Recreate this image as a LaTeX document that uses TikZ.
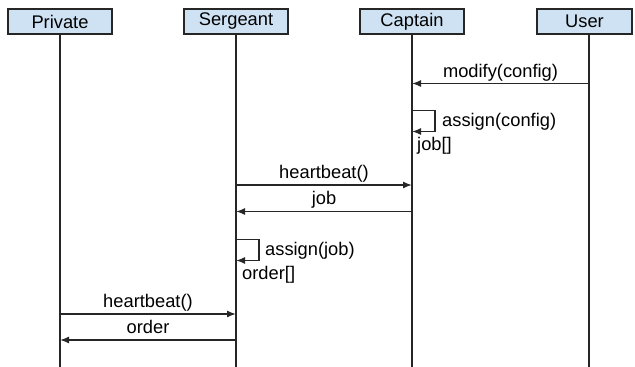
\documentclass[tikz,border=0pt]{standalone}
\usepackage{fontspec}
\setmainfont{Liberation Sans}
\usetikzlibrary{arrows.meta}
\definecolor{boxblue}{RGB}{207,226,243}
\begin{document}
\begin{tikzpicture}[x=1pt,y=-1pt,
  font=\fontsize{18.3}{21}\selectfont,
  actor/.style={draw=black!85,fill=boxblue,line width=1.3pt,minimum width=104pt,minimum height=25pt,inner sep=0pt},
  life/.style={draw=black!85,line width=1.4pt},
  msg/.style={draw=black!85,line width=1.4pt,-{Latex[length=9pt,width=7pt]}},
  lbl/.style={anchor=base,inner sep=0pt}]
\useasboundingbox (0,0) rectangle (635,367);
\clip (0,0) rectangle (635,367);
\node[actor] (p) at (60,21.5) {Private};
\node[actor] (s) at (236,21.5) {Sergeant};
\node[actor] (c) at (412,21.5) {Captain};
\node[actor,minimum width=95pt] (u) at (584.5,21.5) {User};
\coordinate (us) at (589,34);
\coordinate (pe) at (60,367);
\coordinate (se) at (236,367);
\coordinate (ce) at (412,367);
\coordinate (ue) at (589,367);
\draw[life] (p.south) -- (pe);
\draw[life] (s.south) -- (se);
\draw[life] (c.south) -- (ce);
\draw[life] (us) -- (ue);
% modify(config)
\coordinate (m1) at (589,83.5);
\coordinate (m2) at (412,83.5);
\draw[msg] (m1) -- (m2);
\node[lbl] (lm) at (500.5,77) {modify(config)};
% captain self loop
\coordinate (cl1) at (412,110.5);
\coordinate (cl2) at (412,131.5);
\draw[msg] (cl1) -| (435,131.5) -- (cl2);
\node[lbl,anchor=base west] (la) at (442,126) {assign(config)};
\node[lbl,anchor=base west] (lj) at (417,150) {job[]};
% heartbeat sergeant -> captain
\coordinate (h1) at (236,185);
\coordinate (h2) at (412,185);
\draw[msg] (h1) -- (h2);
\node[lbl] (lh) at (324,178) {heartbeat()};
% job captain -> sergeant
\coordinate (j1) at (412,211.5);
\coordinate (j2) at (236,211.5);
\draw[msg] (j1) -- (j2);
\node[lbl] (ljb) at (324,204.5) {job};
% sergeant self loop
\coordinate (sl1) at (236,239.5);
\coordinate (sl2) at (236,260.5);
\draw[msg] (sl1) -| (259,260.5) -- (sl2);
\node[lbl,anchor=base west] (las) at (265,255) {assign(job)};
\node[lbl,anchor=base west] (lo) at (242,279) {order[]};
% heartbeat private -> sergeant
\coordinate (hp1) at (60,314);
\coordinate (hp2) at (236,314);
\draw[msg] (hp1) -- (hp2);
\node[lbl] (lhp) at (148,307) {heartbeat()};
% order sergeant -> private
\coordinate (o1) at (236,340);
\coordinate (o2) at (60,340);
\draw[msg] (o1) -- (o2);
\node[lbl] (lor) at (148,333) {order};
\end{tikzpicture}
\end{document}
